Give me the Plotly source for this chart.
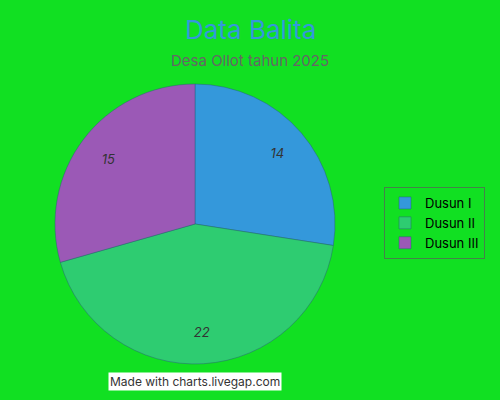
import plotly.graph_objects as go

# data
dusun = ["Dusun I", "Dusun II", "Dusun III"]
jumlah_balita = [14, 22, 15]
warna = ["#3498db", "#2ecc71", "#9b59b6"]

pie_domain = dict(x=[0.11, 0.67], y=[0.09, 0.79])

fig = go.Figure()
# slices
fig.add_trace(go.Pie(
    labels=dusun,
    values=jumlah_balita,
    sort=False,
    direction="clockwise",
    rotation=0,
    marker=dict(colors=warna, line=dict(color="rgba(40,90,120,0.45)", width=1)),
    textinfo="none",
    domain=pie_domain,
    hoverinfo="label+value+percent",
))
# transparent ring on top, only to put the value labels further out
fig.add_trace(go.Pie(
    labels=dusun,
    values=jumlah_balita,
    sort=False,
    direction="clockwise",
    rotation=0,
    hole=0.55,
    marker=dict(colors=["rgba(0,0,0,0)"] * 3, line=dict(width=0)),
    textinfo="value",
    textposition="inside",
    insidetextorientation="horizontal",
    textfont=dict(family="Inter", size=13, color="#333333", style="italic"),
    domain=pie_domain,
    showlegend=False,
    hoverinfo="skip",
))

fig.update_layout(
    width=500,
    height=400,
    margin=dict(l=0, r=0, t=0, b=0),
    paper_bgcolor="#11e022",
    plot_bgcolor="#11e022",
    font=dict(family="Inter", color="#222222"),
    showlegend=True,
    legend=dict(
        x=0.768, y=0.4425, xanchor="left", yanchor="middle",
        bordercolor="rgba(90,90,90,0.7)", borderwidth=1,
        bgcolor="rgba(0,0,0,0)",
        font=dict(size=13, color="#000000"),
        itemwidth=30,
        tracegroupgap=0,
    ),
    annotations=[
        dict(text="Data Balita", x=0.5, y=0.925, xref="paper", yref="paper",
             yanchor="middle", showarrow=False, font=dict(size=26, color="#3498db")),
        dict(text="Desa Ollot tahun 2025", x=0.5, y=0.85, xref="paper", yref="paper",
             yanchor="middle", showarrow=False, font=dict(size=15, color="#666666")),
        dict(text="Made with charts.livegap.com", x=0.216, y=0.0475, xref="paper", yref="paper",
             xanchor="left", yanchor="middle", showarrow=False, bgcolor="white",
             font=dict(size=12, color="#333333"), borderpad=1),
    ],
)

fig.write_html("out.html", config={"displayModeBar": False},
               post_script="document.body.style.margin='0';")
